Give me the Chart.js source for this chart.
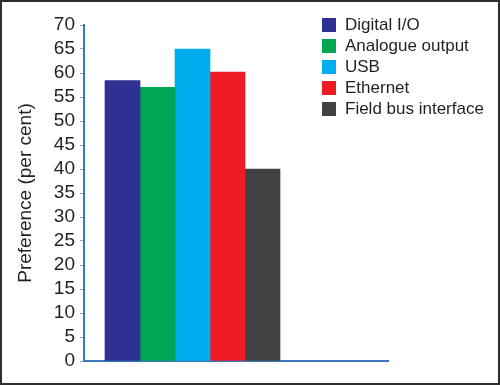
<!DOCTYPE html>
<html>
<head>
<meta charset="utf-8">
<script src="https://cdn.jsdelivr.net/npm/chart.js@4/dist/chart.umd.min.js"></script>
<style>
  html, body { margin: 0; padding: 0; background: #fff; }
  #frame { width: 500px; height: 385px; box-sizing: border-box; border: 2px solid #2e2e2e; }
  canvas { display: block; }
</style>
</head>
<body>
<div id="frame"><canvas id="prefs" width="496" height="381"></canvas></div>
<script>
var interfaces = ['Digital I/O', 'Analogue output', 'USB', 'Ethernet', 'Field bus interface'];
var preference = [58.4, 57.0, 65.0, 60.2, 40.0];
var colours = ['#2e3192', '#00a651', '#00aeef', '#ed1c24', '#414042'];
var yTicks = [0, 5, 10, 15, 20, 25, 30, 35, 40, 45, 50, 55, 60, 65, 70];

var axisBlue = '#3b78bd';
var font = '"Liberation Sans", Arial, sans-serif';

// legend sits inside the plot, top right
var insideLegend = {
  id: 'insideLegend',
  afterDraw: function(chart) {
    var c = chart.ctx;
    c.save();
    c.font = '17px ' + font;
    c.textBaseline = 'middle';
    chart.data.datasets.forEach(function(ds, i) {
      var y = 23 + i * 21;
      c.fillStyle = ds.backgroundColor;
      c.fillRect(320, y - 7, 14, 14);
      c.fillStyle = '#231f20';
      c.fillText(ds.label, 343, y);
    });
    c.restore();
  }
};

var datasets = interfaces.map(function(name, i) {
  return {
    label: name,
    data: [{x: i + 1, y: preference[i]}],
    backgroundColor: colours[i],
    borderWidth: 0,
    grouped: false,
    barPercentage: 1,
    categoryPercentage: 1
  };
});

new Chart(document.getElementById('prefs'), {
  type: 'bar',
  data: { datasets: datasets },
  plugins: [insideLegend],
  options: {
    responsive: false,
    animation: false,
    layout: { padding: { top: 23, right: 110, bottom: 22, left: 0 } },
    plugins: { legend: { display: false }, tooltip: { enabled: false } },
    scales: {
      x: {
        type: 'linear',
        offset: false,
        min: -0.1,
        max: 8.586,
        ticks: { display: false },
        grid: { display: false },
        border: { color: axisBlue, width: 2 },
        afterFit: function(s) { s.height = 0; }
      },
      y: {
        min: 0,
        max: 70,
        afterBuildTicks: function(s) {
          s.ticks = yTicks.map(function(v) { return {value: v}; });
        },
        ticks: { color: '#231f20', padding: 5, autoSkip: false, font: { family: font, size: 19 } },
        grid: { drawOnChartArea: false, tickLength: 4, color: '#7fa9d8' },
        border: { color: axisBlue, width: 2 },
        title: {
          display: true,
          text: 'Preference (per cent)',
          color: '#231f20',
          padding: { top: 12, bottom: 0 },
          font: { family: font, size: 19 }
        },
        afterFit: function(s) { s.width = 82; }
      }
    }
  }
});
</script>
</body>
</html>
